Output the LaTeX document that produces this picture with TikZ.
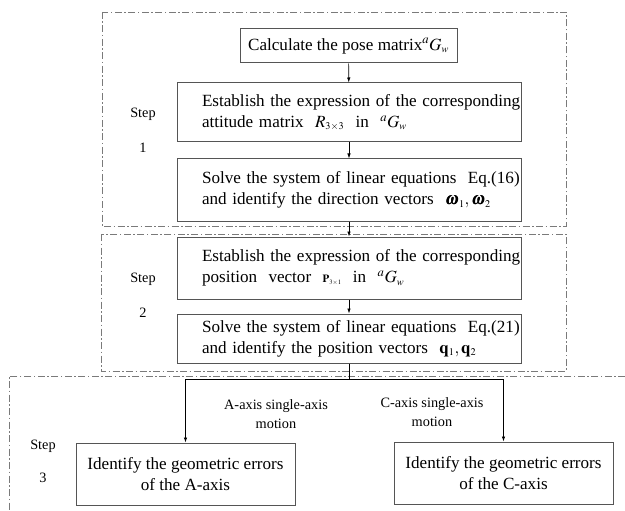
\documentclass[tikz,border=0pt]{standalone}
\usepackage{mathptmx}
\usepackage{bm}
\usepackage{fontspec}
\setmainfont{Liberation Serif}
\usetikzlibrary{arrows.meta}
\definecolor{boxgray}{HTML}{555555}
\definecolor{framegray}{HTML}{7A7A7A}
\newcommand{\mainsize}{\fontsize{17.1}{21}\selectfont}
\newcommand{\lblsize}{\fontsize{14.3}{19}\selectfont}
\newcommand{\sub}[1]{_{\scriptscriptstyle #1}}
\begin{document}
\begin{tikzpicture}[x=1pt,y=-1pt,
      box/.style={draw=boxgray,line width=1pt,font=\mainsize,inner sep=0pt},
      wide/.style={box,minimum width=344pt,text width=294pt,align=left},
      errbox/.style={box,minimum width=219pt,minimum height=62pt,align=center},
      frame/.style={draw=framegray,line width=0.8pt,
        dash pattern=on 7pt off 2.5pt on 1.5pt off 2.5pt},
      link/.style={-{Latex[length=5pt,width=3.5pt]},line width=0.7pt},
      lbl/.style={font=\lblsize,align=center}]
      \useasboundingbox (0,0) rectangle (625,511);
      % step frames
      \draw[frame] (102,12) rectangle (566,226);
      \draw[frame] (101,234) rectangle (566,371);
      \draw[frame] (625,376) -- (9,376) -- (9,511);
      % step 1
      \node[box,minimum width=217pt,minimum height=34pt] (pose) at (348.5,46)
        {Calculate the pose matrix${}^{a}G\sub{w}$};
      \node[wide,minimum height=59pt] (att) at (349,112.5)
        {\mbox{Establish the expression of the corresponding}\\
         \mbox{attitude matrix~~$R\sub{3\times 3}$~~in~~${}^{a}G\sub{w}$}};
      \node[wide,minimum height=62pt] (dir) at (349,190)
        {\mbox{Solve the system of linear equations~~Eq.(16)}\\
         \mbox{and identify the direction vectors~~$\bm{\omega}\sub{1},\bm{\omega}\sub{2}$}};
      \node[lbl] (step1) at (143,130.5) {Step\\[16pt]1};
      % step 2
      \node[wide,minimum height=62pt] (pos) at (349,268)
        {\mbox{Establish the expression of the corresponding}\\
         \mbox{position~~vector~~{\fontsize{11}{11}\selectfont$\mathbf{P}\sub{3\times 1}$}~~in~~${}^{a}G\sub{w}$}};
      \node[wide,minimum height=49pt] (qvec) at (349,338.5)
        {\mbox{Solve the system of linear equations~~Eq.(21)}\\
         \mbox{and identify the position vectors~~$\mathbf{q}\sub{1},\mathbf{q}\sub{2}$}};
      \node[lbl] (step2) at (143,295.5) {Step\\[16pt]2};
      % step 3
      \node[errbox] (errA) at (185.5,474) {Identify the geometric errors\\of the A-axis};
      \node[errbox] (errC) at (503.5,473) {Identify the geometric errors\\of the C-axis};
      \node[lbl] (motA) at (276,414) {A-axis single-axis\\motion};
      \node[lbl] (motC) at (432,412) {C-axis single-axis\\motion};
      \node[lbl] (step3) at (43,461.5) {Step\\[14pt]3};
      % connectors
      \draw[link] (pose) -- (att);
      \draw[link] (att) -- (dir);
      \draw[link] (dir) -- (pos);
      \draw[link] (pos) -- (qvec);
      \coordinate (split) at (349,379);
      \draw[line width=0.7pt] (qvec) -- (split);
      \draw[link] (split) -| (errA);
      \draw[link] (split) -| (errC);
     \end{tikzpicture}
\end{document}
